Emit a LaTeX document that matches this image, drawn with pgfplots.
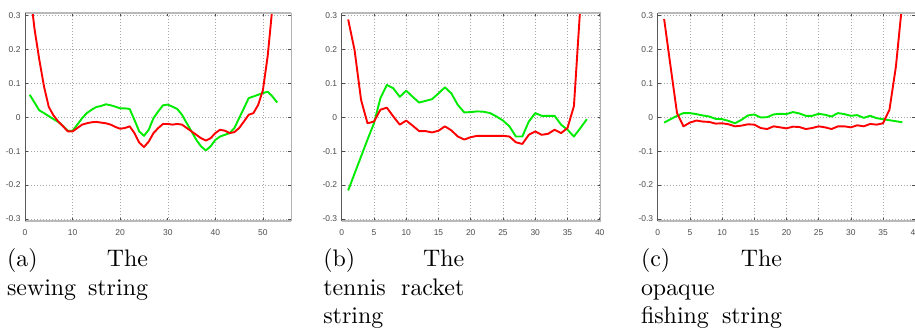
\documentclass[border=0pt]{standalone}
\usepackage{fontspec}
\setsansfont{Liberation Sans}
\newfontfamily\capfont[Extension=.otf]{lmroman10-regular}
\usepackage{pgfplots}
\pgfplotsset{compat=1.18}
\definecolor{mred}{RGB}{255,0,0}
\definecolor{mgreen}{RGB}{0,235,0}
\pgfplotsset{
  mstyle/.style={
    scale only axis, height=208bp, ymin=-0.306, ymax=0.307,
    ytick={-0.3,-0.2,-0.1,0,0.1,0.2,0.3},
    yticklabels={-0.3,-0.2,-0.1,0,0.1,0.2,0.3},
    grid=major,
    major grid style={gray!70, line width=0.5bp, dash pattern=on 0.8bp off 2.2bp},
    axis line style={draw=none},
    tick style={black!70, line width=0.6bp},
    major tick length=3bp,
    tick label style={font=\sffamily\fontsize{8.5}{9}\selectfont, text=black!70},
    xticklabel style={yshift=-5bp},
    yticklabel style={xshift=-1bp},
    /pgf/number format/assume math mode=true,
    every axis plot/.append style={line width=1.9bp, line join=round},
    after end axis/.code={
      \draw[gray!55, line width=2bp] (rel axis cs:0,1) -- (rel axis cs:1,1);
      \draw[gray!55, line width=2bp] (rel axis cs:0,0) -- (rel axis cs:1,0);
      \draw[gray!60, line width=1bp] (rel axis cs:1,0) -- (rel axis cs:1,1);
      \draw[black!65, line width=0.8bp] (rel axis cs:0,0) -- (rel axis cs:0,1);
    },
  }
}
\begin{document}
\begin{tikzpicture}[x=1bp,y=1bp]
\useasboundingbox (0,0) rectangle (915,327);
\clip (0,0) rectangle (915,327);
% (a)
\begin{axis}[mstyle, at={(25bp,106bp)}, anchor=south west, width=266bp,
  xmin=0, xmax=55.9, xtick={0,10,20,30,40,50}]
\addplot[mgreen] coordinates {(1,0.066)(2,0.043)(3,0.02)(4,0.012)(5,0.003)(6,-0.006)(7,-0.014)(8,-0.026)(9,-0.04)(10,-0.04)(11,-0.022)(12,-0.003)(13,0.012)(14,0.022)(15,0.03)(16,0.033)(17,0.038)(18,0.035)(19,0.031)(20,0.026)(21,0.026)(22,0.024)(23,-0.008)(24,-0.042)(25,-0.055)(26,-0.037)(27,-0.003)(28,0.017)(29,0.035)(30,0.037)(31,0.031)(32,0.024)(33,0.007)(34,-0.018)(35,-0.042)(36,-0.067)(37,-0.086)(38,-0.098)(39,-0.086)(40,-0.067)(41,-0.057)(42,-0.052)(43,-0.047)(44,-0.032)(45,-0.003)(46,0.026)(47,0.056)(48,0.061)(49,0.066)(50,0.071)(51,0.075)(52,0.061)(53,0.043)};
\addplot[mred] coordinates {(1,0.38)(2,0.26)(3,0.17)(4,0.09)(5,0.03)(6,0.005)(7,-0.013)(8,-0.027)(9,-0.042)(10,-0.042)(11,-0.032)(12,-0.022)(13,-0.018)(14,-0.015)(15,-0.014)(16,-0.016)(17,-0.018)(18,-0.022)(19,-0.029)(20,-0.034)(21,-0.032)(22,-0.027)(23,-0.047)(24,-0.075)(25,-0.088)(26,-0.072)(27,-0.047)(28,-0.032)(29,-0.02)(30,-0.02)(31,-0.022)(32,-0.02)(33,-0.022)(34,-0.032)(35,-0.042)(36,-0.052)(37,-0.062)(38,-0.069)(39,-0.062)(40,-0.047)(41,-0.037)(42,-0.04)(43,-0.047)(44,-0.044)(45,-0.032)(46,-0.013)(47,0.007)(48,0.012)(49,0.036)(50,0.08)(51,0.18)(52,0.325)(53,0.5)};
\end{axis}
% (b)
\begin{axis}[mstyle, at={(341.7bp,106bp)}, anchor=south west, width=259bp,
  xmin=0, xmax=40.15, xtick={0,5,10,15,20,25,30,35,40}]
\addplot[mgreen] coordinates {(1,-0.216)(2,-0.166)(3,-0.116)(4,-0.066)(5,-0.018)(6,0.056)(7,0.095)(8,0.085)(9,0.06)(10,0.078)(11,0.06)(12,0.043)(13,0.048)(14,0.053)(15,0.07)(16,0.088)(17,0.07)(18,0.036)(19,0.014)(20,0.015)(21,0.017)(22,0.016)(23,0.012)(24,0.002)(25,-0.01)(26,-0.027)(27,-0.057)(28,-0.057)(29,-0.013)(30,0.012)(31,0.004)(32,0.004)(33,0.004)(34,-0.022)(35,-0.037)(36,-0.057)(37,-0.032)(38,-0.006)};
\addplot[mred] coordinates {(1,0.288)(2,0.197)(3,0.051)(4,-0.018)(5,-0.013)(6,0.022)(7,0.028)(8,0.002)(9,-0.022)(10,-0.01)(11,-0.025)(12,-0.041)(13,-0.041)(14,-0.045)(15,-0.04)(16,-0.027)(17,-0.039)(18,-0.057)(19,-0.066)(20,-0.059)(21,-0.055)(22,-0.055)(23,-0.055)(24,-0.055)(25,-0.055)(26,-0.057)(27,-0.074)(28,-0.079)(29,-0.052)(30,-0.042)(31,-0.052)(32,-0.049)(33,-0.037)(34,-0.047)(35,-0.032)(36,0.033)(37,0.33)(38,0.6)};
\end{axis}
% (c)
\begin{axis}[mstyle, at={(657.7bp,106bp)}, anchor=south west, width=257.5bp,
  xmin=0, xmax=40, xtick={0,5,10,15,20,25,30,35,40}]
\addplot[mgreen] coordinates {(1,-0.016)(2,-0.006)(3,0.004)(4,0.012)(5,0.012)(6,0.009)(7,0.005)(8,0.002)(9,-0.005)(10,-0.006)(11,-0.011)(12,-0.018)(13,-0.008)(14,0.005)(15,0.008)(16,-0.001)(17,0)(18,0.008)(19,0.01)(20,0.009)(21,0.015)(22,0.011)(23,0.004)(24,0.004)(25,0.01)(26,0.007)(27,0.002)(28,0.012)(29,0.009)(30,0.004)(31,0.006)(32,-0.002)(33,0.004)(34,-0.003)(35,-0.006)(36,-0.009)(37,-0.012)(38,-0.015)};
\addplot[mred] coordinates {(1,0.289)(2,0.149)(3,0.012)(4,-0.027)(5,-0.016)(6,-0.01)(7,-0.013)(8,-0.014)(9,-0.019)(10,-0.018)(11,-0.021)(12,-0.027)(13,-0.025)(14,-0.021)(15,-0.022)(16,-0.032)(17,-0.035)(18,-0.027)(19,-0.03)(20,-0.033)(21,-0.028)(22,-0.029)(23,-0.035)(24,-0.032)(25,-0.027)(26,-0.03)(27,-0.035)(28,-0.027)(29,-0.027)(30,-0.03)(31,-0.024)(32,-0.027)(33,-0.02)(34,-0.022)(35,-0.018)(36,0.022)(37,0.149)(38,0.34)};
\end{axis}
% captions
\tikzset{capt/.style={anchor=base west, inner sep=0pt, outer sep=0pt, font=\capfont\fontsize{24}{29}\selectfont}}
\node[capt] at (7,61) {\makebox[141bp][l]{(a)\hfill The}};
\node[capt] at (7,32) {\makebox[141bp][l]{sewing\hfill string}};
\node[capt] at (323.3,61) {\makebox[141bp][l]{(b)\hfill The}};
\node[capt] at (323.3,32) {\makebox[141bp][l]{tennis\hfill racket}};
\node[capt] at (323.3,4) {string};
\node[capt] at (641,61) {\makebox[141bp][l]{(c)\hfill The}};
\node[capt] at (641,32) {opaque};
\node[capt] at (641,4) {\makebox[141bp][l]{fishing\hfill string}};
\end{tikzpicture}
\end{document}
